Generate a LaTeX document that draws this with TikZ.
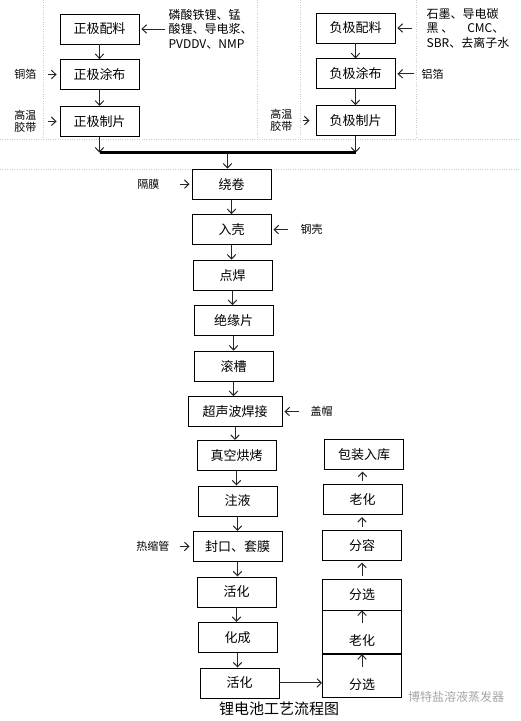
\documentclass[tikz,border=0pt]{standalone}
\usepackage{fontspec}
\newfontfamily\cjk{Noto Sans CJK SC}
\usetikzlibrary{arrows.meta,positioning,calc}

\begin{document}
\begin{tikzpicture}[
  x=1pt, y=-1pt,
  node distance=14.7pt,
  font=\cjk,
  box/.style={draw, line width=0.8pt, minimum width=79pt, minimum height=30pt, inner sep=0pt, font=\cjk\fontsize{13}{15}\selectfont},
  tall/.style={box, minimum height=43pt, text height=29pt, text depth=3pt},
  lbl/.style={inner sep=0pt, align=center, font=\cjk\fontsize{11}{12}\selectfont},
  mat/.style={inner sep=0pt, align=left, font=\cjk\fontsize{12}{14.5}\selectfont},
  arr/.style={-{Straight Barb[length=4.5pt,width=8.5pt]}, line width=1pt, black!85},
  grid/.style={gray!40, dotted}
]
\useasboundingbox (0,0) rectangle (520,721);
\draw[grid] (0,139) -- (520,139) (0,169) -- (520,169);
\foreach \x in {43,257,300,416} \draw[grid] (\x,0) -- (\x,139);

\node[box] (zpl) at (99.5,29) {正极配料};
\node[box, below=of zpl] (ztb) {正极涂布};
\node[box, below=16pt of ztb] (zzp) {正极制片};
\node[box] (fpl) at (355.5,28) {负极配料};
\node[box, below=15pt of fpl] (ftb) {负极涂布};
\node[box, below=16pt of ftb] (fzp) {负极制片};

\node[lbl, left=23pt of ztb] (tb) {铜箔};
\node[lbl, left=23pt of zzp] (gwz) {高温\\胶带};
\node[mat, right=29pt of zpl] (zcl) {磷酸铁锂、锰\\酸锂、导电浆、\\PVDDV、NMP};
\node[mat, right=31pt of fpl] (fcl) {石墨、导电碳\\黑 、\hspace{14pt}CMC、\\SBR、去离子水};
\node[lbl, right=26pt of ftb] (lb) {铝箔};
\node[lbl, left=23pt of fzp] (gwf) {高温\\胶带};

\draw[arr, shorten <=11pt, shorten >=3pt] (tb) -- (ztb);
\draw[arr, shorten <=11pt, shorten >=3pt] (zzp.west -| gwz.east) -- (zzp.west);
\draw[arr, shorten <=3pt, shorten >=2pt] (zpl.east -| zcl.west) -- (zpl.east);
\draw[arr, shorten <=14pt, shorten >=2pt] (fpl.east -| fcl.west) -- (fpl.east);
\draw[arr, shorten <=7pt, shorten >=2pt] (lb) -- (ftb);
\draw[arr, shorten <=10pt, shorten >=6pt] (fzp.west -| gwf.east) -- (fzp.west);
\foreach \a/\b in {zpl/ztb,ztb/zzp,fpl/ftb,ftb/fzp} \draw[arr] (\a) -- (\b);

\coordinate[below=16pt of zzp.south] (busl);
\coordinate (busr) at (fzp.south |- busl);
\coordinate (busm) at ($(busl)!0.5!(busr)$);
\draw[arr] (zzp) -- (busl);
\draw[arr] (fzp) -- (busr);
\draw[line width=2.5pt] (busl) -- (busr);

\node[box, below=16pt of busm, xshift=4pt] (rj) {绕卷};
\node[box, below=of rj] (rk) {入壳};
\node[box, below=of rk, xshift=1pt] (dh) {点焊};
\node[box, below=of dh, xshift=1pt] (jyp) {绝缘片};
\node[box, below=of jyp] (gc) {滚槽};
\node[box, below=of gc, xshift=1.5pt, minimum width=94pt] (cs) {超声波焊接};
\node[box, below=13pt of cs, xshift=1.5pt] (zk) {真空烘烤};
\node[box, below=of zk, xshift=1pt] (zy) {注液};
\node[box, below=of zy, minimum width=89pt] (fk) {封口、套膜};
\node[box, below=of fk, xshift=-1pt] (hh1) {活化};
\node[box, below=of hh1, xshift=1pt] (hc) {化成};
\node[box, below=of hc, xshift=2pt] (hh2) {活化};
\draw[arr] (busm) -- (busm |- rj.north);
\foreach \a/\b in {rj/rk,rk/dh,dh/jyp,jyp/gc,gc/cs,cs/zk,zk/zy,zy/fk,fk/hh1,hh1/hc,hc/hh2}
  \draw[arr] (\a.south) -- (\a.south |- \b.north);

\node[lbl, left=32pt of rj] (gm) {隔膜};
\node[lbl, right=29pt of rk] (gk) {钢壳};
\node[lbl, right=28pt of cs] (gmao) {盖帽};
\node[lbl, left=23pt of fk] (rsg) {热缩管};
\draw[arr, shorten <=20pt, shorten >=2pt] (gm) -- (rj);
\draw[arr, shorten <=12pt, shorten >=2pt] (gk) -- (rk);
\draw[arr, shorten <=11pt, shorten >=2pt] (gmao) -- (cs);
\draw[arr, shorten <=10pt, shorten >=3pt] (rsg) -- (fk);

\node[tall] (fx1) at (362,676) {分选};
\node[tall, above=0pt of fx1] (lh1) {老化};
\node[box, above=0pt of lh1, minimum height=31pt] (fx2) {分选};
\node[box, above=18pt of fx2] (fr) {分容};
\node[box, above=of fr, xshift=0.5pt] (lh2) {老化};
\node[box, above=of lh2, xshift=1.5pt] (bz) {包装入库};
\foreach \a/\b in {fx2/fr,fr/lh2,lh2/bz}
  \draw[arr, shorten <=3pt, shorten >=2pt] (\a.north) -- (\a.north |- \b.south);
\coordinate[below=13pt of lh1.north] (lt);
\coordinate[below=13pt of fx1.north] (ft);
\draw[arr] (lt) -- (lh1.north);
\draw[arr] (ft) -- (fx1.north);
\draw[arr] (hh2.east) -- (hh2.east -| fx1.west);

\node[inner sep=0pt, font=\cjk\fontsize{15}{17}\selectfont] (title) at (279,709) {锂电池工艺流程图};
\node[inner sep=0pt, text=gray!70, font=\cjk\fontsize{12}{14}\selectfont] (wm) at (456,697) {博特盐溶液蒸发器};
\end{tikzpicture}
\end{document}
